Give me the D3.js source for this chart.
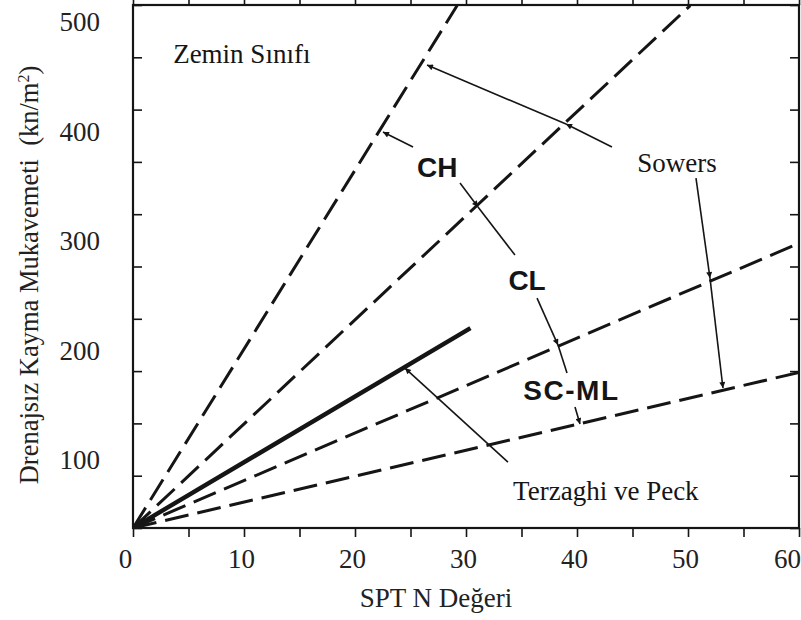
<!DOCTYPE html>
<html>
<head>
<meta charset="utf-8">
<script src="https://cdn.jsdelivr.net/npm/d3@7"></script>
<style>
  body { margin: 0; background: #fff; }
  svg { display: block; }
</style>
</head>
<body>
<div id="chart"></div>
<script>
// values
const xTickValues = [0, 10, 20, 30, 40, 50, 60];
const yTickValues = [100, 200, 300, 400, 500];

// boundary lines: SPT N (start, end) and strength (start, end)
const lineN = [[0, 29.2], [0, 50.2], [0, 30.4], [0, 60], [0, 60]];
const lineQ = [[38, 515], [38, 515], [38, 220.5], [38, 298], [38, 180]];

// labels inside the plot
const labelText = ["Zemin Sınıfı", "CH", "CL", "SC-ML", "Sowers", "Terzaghi ve Peck"];
const labelN = [9.8, 27.4, 35.5, 39.5, 49.0, 42.6];
const labelQ = [471, 367.6, 264.4, 163.9, 372, 72.6];

// leader segments: [N0, Q0, N1, Q1], arrow flag
const leaderSegs = [
  [43.15, 385.8, 39.01, 406.8], [39.01, 406.8, 26.49, 460.7],   // Sowers upper
  [50.72, 357.5, 51.98, 266.2], [51.98, 266.2, 53.15, 165.8],   // Sowers lower
  [25.23, 385.8, 22.52, 399.5],                                  // CH -> line 1
  [29.46, 353.0, 31.08, 331.1], [31.08, 331.1, 34.41, 287.2],   // CH/CL
  [36.40, 247.9, 38.29, 205.0], [38.29, 205.0, 39.10, 179.5],   // CL/SC-ML
  [39.82, 148.4, 40.27, 132.9],                                  // SC-ML
  [33.78, 98.2, 24.50, 184.0]                                    // Terzaghi ve Peck
];
const leaderArrow = [true, true, true, true, true, true, false, true, false, true, true];

const W = 801, H = 620;
const plot = {left: 133, right: 799, top: 5, bottom: 528};
const serif = "'Liberation Serif', 'Times New Roman', serif";
const sans = "'Liberation Sans', Arial, sans-serif";
const ink = "#151515";

const svg = d3.select("#chart")
  .append("svg")
    .attr("width", W)
    .attr("height", H);

const x = d3.scaleLinear().domain([0, 60]).range([plot.left, plot.right]);
const y = d3.scaleLinear().domain([38, 515.5]).range([plot.bottom, plot.top]);
// tick marks on the frame sit on an even grid of their own
const yMark = d3.scaleLinear().domain([0, 10]).range([plot.bottom, plot.top]);

svg.append("defs").append("clipPath").attr("id", "clip")
  .append("rect")
    .attr("x", plot.left).attr("y", plot.top)
    .attr("width", plot.right - plot.left).attr("height", plot.bottom - plot.top);

svg.select("defs").append("marker")
    .attr("id", "arrow")
    .attr("viewBox", "0 0 10 10")
    .attr("refX", 10).attr("refY", 5)
    .attr("markerWidth", 9).attr("markerHeight", 6)
    .attr("markerUnits", "userSpaceOnUse")
    .attr("orient", "auto")
  .append("path")
    .attr("d", "M0,0L10,5L0,10Z")
    .attr("fill", ink);

// tick labels (the scan's labels sit a little left of their ticks)
svg.append("g")
  .attr("transform", `translate(0,${plot.bottom})`)
  .call(d3.axisBottom(x).tickValues(xTickValues).tickSize(0).tickPadding(21))
  .call(g => g.select(".domain").remove())
  .selectAll("text")
    .attr("dx", (d, i, n) => i === 0 ? -8 : (i === n.length - 1 ? -12 : -3))
    .style("font-family", serif).style("font-size", "27px").attr("fill", "#222");

svg.append("g")
  .attr("transform", `translate(${plot.left},0)`)
  .call(d3.axisLeft(y).tickValues(yTickValues).tickSize(0).tickPadding(33))
  .call(g => g.select(".domain").remove())
  .selectAll("text")
    .style("font-family", serif).style("font-size", "27px").attr("fill", "#222");

// inward tick marks on all four sides
const xMinor = d3.range(0, 61, 5);
function frameTicks(axis, tr) {
  svg.append("g")
    .attr("transform", tr)
    .call(axis.tickFormat(""))
    .call(g => g.select(".domain").remove())
    .selectAll("line").attr("stroke", ink).attr("stroke-width", 1.6);
}
frameTicks(d3.axisTop(x).tickValues(xMinor).tickSizeInner(-9).tickSizeOuter(0), `translate(0,${plot.bottom})`);
frameTicks(d3.axisBottom(x).tickValues(xMinor).tickSizeInner(-9).tickSizeOuter(0), `translate(0,${plot.top})`);
frameTicks(d3.axisLeft(yMark).ticks(10).tickSizeInner(-9).tickSizeOuter(0), `translate(${plot.left},0)`);
frameTicks(d3.axisRight(yMark).ticks(10).tickSizeInner(-9).tickSizeOuter(0), `translate(${plot.right},0)`);

// frame
svg.append("rect")
  .attr("x", plot.left).attr("y", plot.top)
  .attr("width", plot.right - plot.left).attr("height", plot.bottom - plot.top)
  .attr("fill", "none").attr("stroke", ink).attr("stroke-width", 2.2);

// boundary lines
const line = d3.line().x(d => x(d[0])).y(d => y(d[1]));
const lines = lineN.map((n, i) => [[n[0], lineQ[i][0]], [n[1], lineQ[i][1]]]);
svg.append("g").attr("clip-path", "url(#clip)")
  .selectAll("path")
  .data(lines)
  .join("path")
    .attr("d", line)
    .attr("fill", "none")
    .attr("stroke", ink)
    .attr("stroke-width", (d, i) => i === 2 ? 4.4 : 3)
    .attr("stroke-dasharray", (d, i) => i === 2 ? null : "24,9");

// leaders
svg.append("g")
  .selectAll("path")
  .data(leaderSegs)
  .join("path")
    .attr("d", s => line([[s[0], s[1]], [s[2], s[3]]]))
    .attr("fill", "none")
    .attr("stroke", ink)
    .attr("stroke-width", 1.6)
    .attr("marker-end", (s, i) => leaderArrow[i] ? "url(#arrow)" : null);

// labels
svg.append("g")
  .selectAll("text")
  .data(labelText)
  .join("text")
    .attr("x", (d, i) => x(labelN[i]))
    .attr("y", (d, i) => y(labelQ[i]))
    .attr("dy", "0.35em")
    .attr("text-anchor", "middle")
    .style("font-family", (d, i) => (i >= 1 && i <= 3) ? sans : serif)
    .style("font-weight", (d, i) => (i >= 1 && i <= 3) ? "bold" : "normal")
    .style("font-size", (d, i) => (i >= 1 && i <= 3) ? "28px" : "27px")
    .style("letter-spacing", (d, i) => i === 3 ? "1.5px" : null)
    .attr("fill", ink)
    .text(d => d);

// axis titles
svg.append("text")
  .attr("x", 436).attr("y", 607)
  .attr("text-anchor", "middle")
  .style("font-family", serif).style("font-size", "27px")
  .attr("fill", "#222")
  .text("SPT N Değeri");

svg.append("text")
  .attr("transform", "translate(38,275) rotate(-90)")
  .attr("text-anchor", "middle")
  .style("font-family", serif).style("font-size", "26.5px")
  .attr("fill", "#222")
  .html("Drenajsız Kayma Mukavemeti&#160;&#160;(kn/m<tspan dy='-9' font-size='16px'>2</tspan><tspan dy='9'>)</tspan>");
</script>
</body>
</html>
